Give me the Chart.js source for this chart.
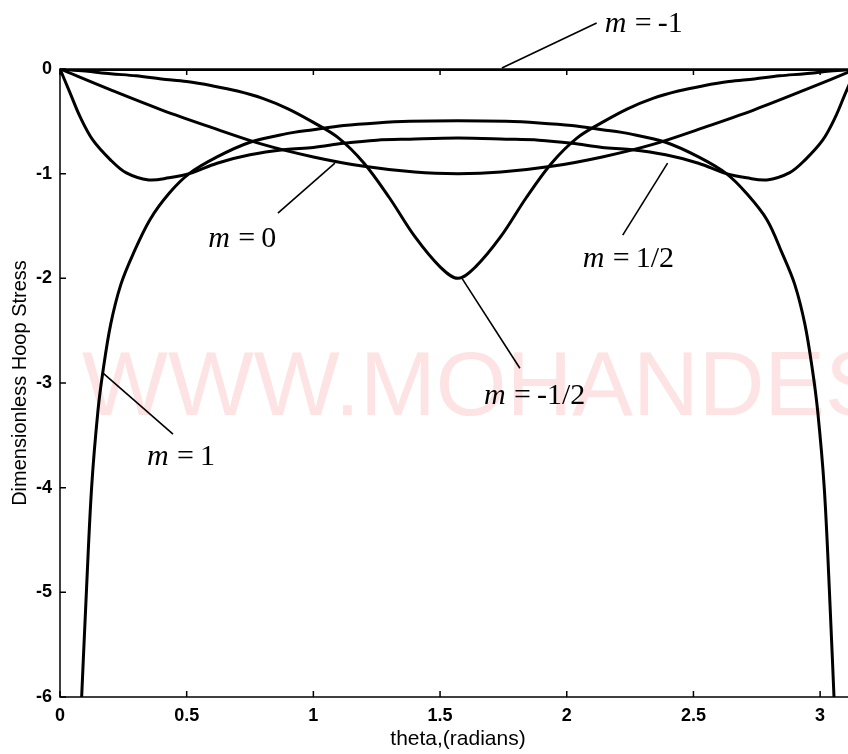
<!DOCTYPE html>
<html>
<head>
<meta charset="utf-8">
<script src="https://cdn.jsdelivr.net/npm/chart.js@4.4.0/dist/chart.umd.min.js"></script>
<style>
html,body{margin:0;padding:0;background:#fff;overflow:hidden;}
#wrap{width:880px;height:754px;position:relative;}
</style>
</head>
<body>
<div id="wrap"><canvas id="hoop"></canvas></div>
<script>
// axis range / ticks
const thetaMax = 3.1416;
const xTicks = [0, 0.5, 1, 1.5, 2, 2.5, 3];
const yTicks = [0, -1, -2, -3, -4, -5, -6];

// curves (theta in radians, dimensionless hoop stress)
const thetaMm1 = [0, 3.1416];
const hoopMm1  = [0, 0];

const thetaMmh = [0, 0.1, 0.2, 0.3, 0.4, 0.5, 0.6, 0.7, 0.8, 0.9, 1.0, 1.1, 1.2, 1.3, 1.4, 1.5, 1.5708,
                  1.64, 1.74, 1.84, 1.94, 2.04, 2.14, 2.24, 2.34, 2.44, 2.54, 2.64, 2.74, 2.84, 2.94, 3.04, 3.1416];
const hoopMmh  = [0, -0.02, -0.045, -0.065, -0.095, -0.12, -0.16, -0.21, -0.28, -0.38, -0.51, -0.66, -0.90, -1.23, -1.60, -1.89, -2.0,
                  -1.89, -1.60, -1.23, -0.90, -0.66, -0.51, -0.38, -0.28, -0.21, -0.16, -0.12, -0.095, -0.065, -0.045, -0.02, 0];

const thetaM0 = [0, 0.2, 0.4, 0.6, 0.8, 1.0, 1.2, 1.4, 1.5708, 1.74, 1.94, 2.14, 2.34, 2.54, 2.74, 2.94, 3.1416];
const hoopM0  = [0, -0.20, -0.39, -0.56, -0.72, -0.84, -0.93, -0.985, -1.0, -0.985, -0.93, -0.84, -0.72, -0.56, -0.39, -0.20, 0];

const thetaMh = [0, 0.04, 0.08, 0.13, 0.2, 0.26, 0.35, 0.43, 0.51, 0.62, 0.75, 0.89, 1.0, 1.12, 1.25, 1.38, 1.5708,
                 1.76, 1.89, 2.02, 2.14, 2.25, 2.39, 2.52, 2.63, 2.71, 2.79, 2.88, 2.94, 3.01, 3.06, 3.10, 3.1416];
const hoopMh  = [0, -0.23, -0.46, -0.68, -0.87, -0.99, -1.06, -1.04, -1.00, -0.90, -0.82, -0.77, -0.75, -0.71, -0.68, -0.67, -0.66,
                 -0.67, -0.68, -0.71, -0.75, -0.77, -0.82, -0.90, -1.00, -1.04, -1.06, -0.99, -0.87, -0.68, -0.46, -0.23, 0];

const thetaM1 = [0.08, 0.105, 0.125, 0.15, 0.17, 0.2, 0.24, 0.29, 0.355, 0.43, 0.51, 0.62, 0.75, 0.89, 1.0, 1.12, 1.25, 1.38, 1.5708,
                 1.76, 1.89, 2.02, 2.14, 2.25, 2.39, 2.52, 2.63, 2.71, 2.79, 2.85, 2.90, 2.94, 2.97, 2.99, 3.016, 3.036, 3.06];
const hoopM1  = [-6.3, -4.95, -3.99, -3.26, -2.88, -2.44, -2.06, -1.76, -1.44, -1.19, -1.00, -0.84, -0.70, -0.62, -0.58, -0.54, -0.515, -0.50, -0.495,
                 -0.50, -0.515, -0.54, -0.58, -0.62, -0.70, -0.84, -1.00, -1.19, -1.44, -1.76, -2.06, -2.44, -2.88, -3.26, -3.99, -4.95, -6.3];

// curve labels: text anchor and leader line, in data units
const noteText = ['-1', '0', '1/2', '-1/2', '1'];
const noteAt   = [[2.150, 0.354], [0.585, -1.70], [2.063, -1.893], [1.673, -3.203], [0.343, -3.786]];
const noteFrom = [[1.744, 0.01], [0.860, -1.377], [2.221, -1.587], [1.586, -1.998], [0.170, -2.906]];
const noteTo   = [[2.118, 0.44], [1.085, -0.899], [2.398, -0.899], [1.815, -2.859], [0.446, -3.489]];

const pts = (xs, ys) => xs.map((x,i)=>({x, y:ys[i]}));
const curve = (data, w) => ({data, borderColor:'#000', borderWidth:w, pointRadius:0, showLine:true,
  fill:false, tension:0.35});

const sansFont = "'Liberation Sans', Arial, sans-serif";
const serifFont = "'Liberation Serif', 'Times New Roman', serif";

const decor = {
  id:'decor',
  beforeDatasetsDraw(chart){
    const {ctx, chartArea:a} = chart;
    ctx.save();
    ctx.fillStyle = '#fde3e3';
    ctx.font = `91px ${sansFont}`;
    ctx.textBaseline = 'alphabetic';
    ctx.fillText('WWW.MOHANDES', a.left + 22, 415);
    ctx.restore();
  },
  afterDraw(chart){
    const {ctx, chartArea:a, scales:{x, y}} = chart;
    ctx.save();
    ctx.strokeStyle = '#000';
    ctx.lineWidth = 1.5;
    ctx.strokeRect(a.left, a.top, a.right - a.left, a.bottom - a.top);
    ctx.beginPath();
    xTicks.forEach(v=>{
      const px = x.getPixelForValue(v);
      ctx.moveTo(px, a.bottom); ctx.lineTo(px, a.bottom - 6);
      ctx.moveTo(px, a.top); ctx.lineTo(px, a.top + 6);
    });
    yTicks.forEach(v=>{
      const py = y.getPixelForValue(v);
      ctx.moveTo(a.left, py); ctx.lineTo(a.left + 6, py);
      ctx.moveTo(a.right, py); ctx.lineTo(a.right - 6, py);
    });
    ctx.stroke();

    // labels for the curves
    ctx.lineWidth = 1.6;
    noteText.forEach((t,i)=>{
      ctx.beginPath();
      ctx.moveTo(x.getPixelForValue(noteFrom[i][0]), y.getPixelForValue(noteFrom[i][1]));
      ctx.lineTo(x.getPixelForValue(noteTo[i][0]), y.getPixelForValue(noteTo[i][1]));
      ctx.stroke();
      const tx = x.getPixelForValue(noteAt[i][0]), ty = y.getPixelForValue(noteAt[i][1]);
      ctx.fillStyle = '#000';
      ctx.textBaseline = 'alphabetic';
      ctx.font = `italic 30px ${serifFont}`;
      ctx.fillText('m', tx, ty);
      ctx.font = `30px ${serifFont}`;
      ctx.fillText('=', tx + 30, ty);
      ctx.fillText(t, tx + 53, ty);
    });
    ctx.restore();
  }
};

new Chart(document.getElementById('hoop'), {
  type:'scatter',
  data:{
    datasets:[
      curve(pts(thetaMm1, hoopMm1), 4),
      curve(pts(thetaMmh, hoopMmh), 3),
      curve(pts(thetaM0, hoopM0), 3),
      curve(pts(thetaMh, hoopMh), 3),
      curve(pts(thetaM1, hoopM1), 3)
    ]
  },
  options:{
    responsive:true, maintainAspectRatio:false, animation:false,
    layout:{padding:{left:0, top:69, right:24, bottom:0}},
    plugins:{legend:{display:false}, tooltip:{enabled:false}},
    scales:{
      x:{
        type:'linear', min:0, max:thetaMax,
        afterBuildTicks: s => { s.ticks = xTicks.map(v=>({value:v})); },
        afterFit: s => { s.height = 57; },
        grid:{display:false, drawTicks:false}, border:{display:false},
        ticks:{color:'#000', padding:8, font:{family:sansFont, size:18, weight:'bold'},
          callback: v => String(v)},
        title:{display:true, text:'theta,(radians)', color:'#000', padding:{top:0, bottom:2},
          font:{family:sansFont, size:21}}
      },
      y:{
        type:'linear', min:-6, max:0,
        afterBuildTicks: s => { s.ticks = yTicks.map(v=>({value:v})); },
        afterFit: s => { s.width = 60; },
        grid:{display:false, drawTicks:false}, border:{display:false},
        ticks:{color:'#000', padding:8, font:{family:sansFont, size:18, weight:'bold'},
          callback: v => String(v)},
        title:{display:true, text:'Dimensionless Hoop Stress', color:'#000', padding:{top:8, bottom:0},
          font:{family:sansFont, size:20}}
      }
    }
  },
  plugins:[decor]
});
</script>
</body>
</html>
